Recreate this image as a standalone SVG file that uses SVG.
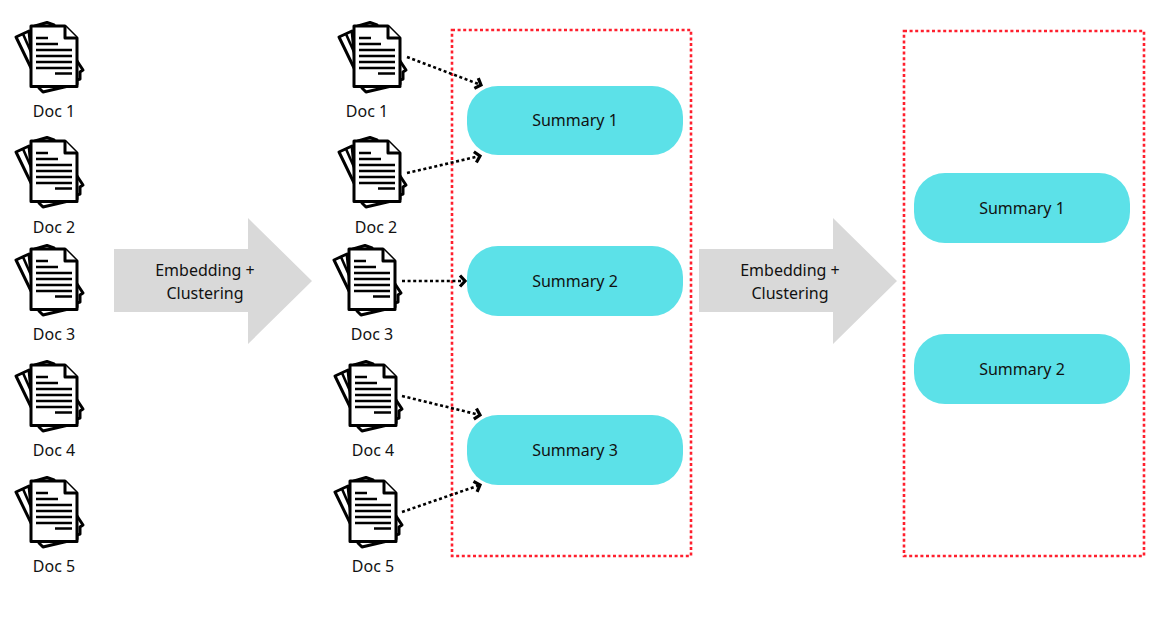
<svg xmlns="http://www.w3.org/2000/svg" width="1154" height="623" viewBox="0 0 1154 623">
<style>
text{font-family:"Noto Sans","Open Sans",sans-serif;font-size:16px;fill:#111;text-anchor:middle}
.b{fill:#5ce1e8}
.a{fill:#d9d9d9}
.r{fill:none;stroke:#ff1f2d;stroke-width:2.6;stroke-dasharray:3 2.6}
.c{fill:none;stroke:#000;stroke-width:2.6;stroke-dasharray:3 2.6}
.p{fill:#fff;stroke:#000;stroke-width:3;stroke-linejoin:round}
.l{stroke:#000;stroke-width:2.6;fill:none}
</style>
<defs>
<marker id="m" markerUnits="userSpaceOnUse" markerWidth="14" markerHeight="14" refX="10" refY="7" orient="auto"><path d="M5 1.500L10 7L5 12.500" fill="none" stroke="#000" stroke-width="3.200"/></marker>
<g id="doc">
<path class="p" d="M-15 11L-2 5L2 46Z"/>
<path class="l" d="M-8 8L0 26"/>
<path class="p" d="M4 0L16 -3.500L23 -1L48 38L52 44L49 46L49 53L46 54L46 58L12 66L8 62Z"/>
<path class="p" d="M0 0H34L46 12V60.500H0Z"/>
<path class="p" d="M34 0V12H46" stroke-width="2.400"/>
<path class="l" d="M5 12H17M5 18H27M5 24H41M5 30H41M5 36H41M5 42H41M24 47.500H41"/>
</g>
</defs>
<g id="group1"><rect class="r" x="452" y="30" width="239" height="526"/></g>
<g id="group2"><rect class="r" x="904" y="31" width="240" height="525"/></g>
<g id="arrow1"><path class="a" d="M114 249H248V218L312 281L248 344V312H114Z"/><text x="205" y="276">Embedding +</text><text x="205" y="299">Clustering</text></g>
<g id="arrow2"><path class="a" d="M699 249H833V218L897 281L833 344V312H699Z"/><text x="790" y="276">Embedding +</text><text x="790" y="299">Clustering</text></g>
<g id="doc-a1"><use href="#doc" x="31" y="26"/><text x="54" y="117">Doc 1</text></g>
<g id="doc-a2"><use href="#doc" x="31" y="141"/><text x="54" y="233">Doc 2</text></g>
<g id="doc-a3"><use href="#doc" x="31" y="249"/><text x="54" y="340">Doc 3</text></g>
<g id="doc-a4"><use href="#doc" x="31" y="365"/><text x="54" y="456">Doc 4</text></g>
<g id="doc-a5"><use href="#doc" x="31" y="481"/><text x="54" y="572">Doc 5</text></g>
<g id="doc-b1"><use href="#doc" x="354" y="26"/><text x="367" y="117">Doc 1</text></g>
<g id="doc-b2"><use href="#doc" x="354" y="141"/><text x="376" y="233">Doc 2</text></g>
<g id="doc-b3"><use href="#doc" x="349" y="249"/><text x="372" y="340">Doc 3</text></g>
<g id="doc-b4"><use href="#doc" x="350" y="365"/><text x="373" y="456">Doc 4</text></g>
<g id="doc-b5"><use href="#doc" x="350" y="481"/><text x="373" y="572">Doc 5</text></g>
<g id="s1"><rect class="b" x="467" y="86" width="216" height="69" rx="31"/><text x="575" y="126">Summary 1</text></g>
<g id="s2"><rect class="b" x="467" y="246" width="216" height="70" rx="31"/><text x="575" y="287">Summary 2</text></g>
<g id="s3"><rect class="b" x="467" y="415" width="216" height="70" rx="31"/><text x="575" y="456">Summary 3</text></g>
<g id="s4"><rect class="b" x="914" y="173" width="216" height="70" rx="31"/><text x="1022" y="214">Summary 1</text></g>
<g id="s5"><rect class="b" x="914" y="334" width="216" height="70" rx="31"/><text x="1022" y="375">Summary 2</text></g>
<g id="connectors">
<path class="c" marker-end="url(#m)" d="M407 57L481 85"/>
<path class="c" marker-end="url(#m)" d="M407 173L480 156"/>
<path class="c" marker-end="url(#m)" d="M402 281H465"/>
<path class="c" marker-end="url(#m)" d="M402 396L480 415"/>
<path class="c" marker-end="url(#m)" d="M402 512L480 485"/>
</g>
</svg>
